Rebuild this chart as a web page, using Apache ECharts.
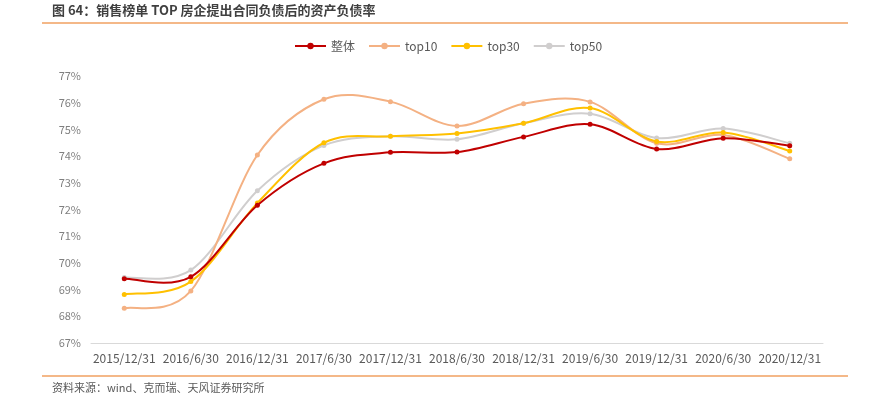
<!DOCTYPE html>
<html>
<head>
<meta charset="utf-8">
<script src="https://cdn.jsdelivr.net/npm/echarts@6/dist/echarts.min.js"></script>
<style>html,body{margin:0;padding:0;background:#fff;}#c{width:870px;height:400px;}</style>
</head>
<body>
<div id="c"></div>
<script>
const categories = ['2015/12/31','2016/6/30','2016/12/31','2017/6/30','2017/12/31','2018/6/30','2018/12/31','2019/6/30','2019/12/31','2020/6/30','2020/12/31'];
const zhengti = [69.41,69.48,72.16,73.73,74.14,74.15,74.72,75.19,74.27,74.67,74.39];
const top10 = [68.30,68.95,74.04,76.13,76.04,75.13,75.96,76.03,74.48,74.79,73.90];
const top30 = [68.82,69.30,72.24,74.50,74.74,74.85,75.23,75.80,74.55,74.88,74.19];
const top50 = [69.45,69.73,72.70,74.40,74.74,74.63,75.23,75.59,74.68,75.03,74.48];
const seriesNames = ['整体','top10','top30','top50'];
const colors = ['#c00000','#f4b183','#ffc000','#d0cece'];
const allData = [zhengti, top10, top30, top50];

const font = '"Noto Sans CJK SC","Noto Sans",sans-serif';
const chart = echarts.init(document.getElementById('c'), null, {renderer:'canvas'});

// Smooth curve (Catmull-Rom style) drawn through the axis scales via api.coord
function curveSeries(name, values, color, z) {
  return {
    name: name + '_curve', type:'custom', clip:false, z, silent:true,
    data: values.map((v,i)=>[i,v]),
    renderItem: function(params, api) {
      const i = params.dataIndex;
      const n = values.length;
      if (i >= n - 1) return null;
      const p = k => api.coord([Math.max(0, Math.min(n-1, k)), values[Math.max(0, Math.min(n-1, k))]]);
      const p0 = p(i-1), p1 = p(i), p2 = p(i+1), p3 = p(i+2);
      const t = 1/6;
      return {
        type:'bezierCurve',
        shape:{
          x1:p1[0], y1:p1[1], x2:p2[0], y2:p2[1],
          cpx1:p1[0] + (p2[0]-p0[0])*t, cpy1:p1[1] + (p2[1]-p0[1])*t,
          cpx2:p2[0] - (p3[0]-p1[0])*t, cpy2:p2[1] - (p3[1]-p1[1])*t
        },
        style:{stroke:color, lineWidth:2, fill:null, lineCap:'round'}
      };
    }
  };
}
const mk = (name, data, color, z) => ({
  name, type:'line', data, symbol:'circle', symbolSize:5,
  lineStyle:{color, width:2, opacity:0}, itemStyle:{color}, z
});
const zs = [8, 4, 6, 2];
const series = [];
seriesNames.forEach((nm, k) => {
  series.push(curveSeries(nm, allData[k], colors[k], zs[k]));
  series.push(mk(nm, allData[k], colors[k], zs[k] + 1));
});

chart.setOption({
  animation:false,
  textStyle:{fontFamily:font},
  color: colors,
  legend:{
    top:35, left:289, itemWidth:31, itemHeight:8, itemGap:13,
    textStyle:{color:'#595959', fontSize:12, fontFamily:font},
    data: seriesNames.map((nm,k)=>({name:nm, lineStyle:{color:colors[k], width:2, opacity:1}}))
  },
  grid:{left:91, right:47, top:76, bottom:57},
  xAxis:{
    type:'category', data:categories, boundaryGap:true,
    axisLine:{lineStyle:{color:'#d9d9d9', width:1}},
    axisTick:{show:false},
    axisLabel:{color:'#595959', fontSize:12, margin:9, interval:0, fontFamily:font}
  },
  yAxis:{
    type:'value', min:67, max:77, interval:1,
    axisLine:{show:false}, axisTick:{show:false},
    splitLine:{show:false},
    axisLabel:{color:'#7f7f7f', fontSize:11, margin:10, formatter: v => v + '%', fontFamily:font}
  },
  graphic:[
    {type:'text', left:52, top:4, style:{text:'图 64：销售榜单 TOP 房企提出合同负债后的资产负债率', fill:'#404040', font:'bold 13px ' + font}},
    {type:'line', shape:{x1:42, y1:23, x2:848, y2:23}, style:{stroke:'#f0a060', lineWidth:1.5}},
    {type:'line', shape:{x1:42, y1:376, x2:848, y2:376}, style:{stroke:'#f0a060', lineWidth:1.5}},
    {type:'text', left:52, top:382, style:{text:'资料来源：wind、克而瑞、天风证券研究所', fill:'#595959', font:'11px ' + font}}
  ],
  series
});
</script>
</body>
</html>
